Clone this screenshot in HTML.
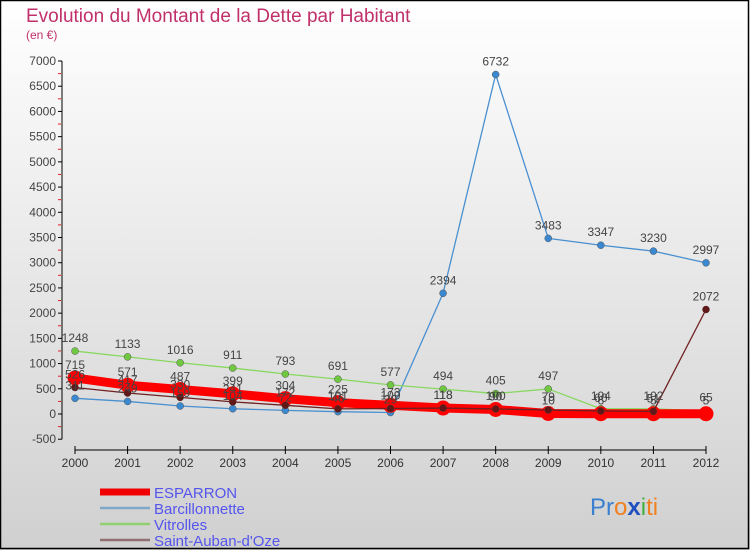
<!DOCTYPE html>
<html><head><meta charset="utf-8"><style>
body{margin:0;padding:0}
svg{display:block;font-family:"Liberation Sans",sans-serif}
</style></head><body>
<svg id="chart" width="750" height="550" viewBox="0 0 750 550" xmlns="http://www.w3.org/2000/svg">
<defs><linearGradient id="bg" x1="0" y1="0" x2="0" y2="1"><stop offset="0" stop-color="#ffffff"/><stop offset="1" stop-color="#d0d0d0"/></linearGradient></defs>
<rect x="0" y="0" width="750" height="550" fill="url(#bg)"/>
<rect x="0.5" y="0.5" width="748" height="548" fill="none" stroke="#000" stroke-width="1.5"/>
<text x="26" y="22" font-size="19" fill="#c0306a">Evolution du Montant de la Dette par Habitant</text>
<text x="26" y="39" font-size="12" fill="#c0306a">(en €)</text>
<g id="axes"></g>
<g id="series"></g>
<g id="labels"></g>
<g id="legend"></g>
<text x="590" y="515" font-size="24"><tspan fill="#3a7fd0">Pr</tspan><tspan fill="#f08020">o</tspan><tspan fill="#2050c0" font-weight="bold">x</tspan><tspan fill="#40b040">i</tspan><tspan fill="#f08020">ti</tspan></text>
</svg>
<script>
const years=[2000,2001,2002,2003,2004,2005,2006,2007,2008,2009,2010,2011,2012];
const yTicks=[-500,0,500,1000,1500,2000,2500,3000,3500,4000,4500,5000,5500,6000,6500,7000];
const esparron=[715,571,487,399,304,225,173,118,90,10,6,5,5];
const barcillonnette=[311,249,159,104,72,46,29,2394,6732,3483,3347,3230,2997];
const vitrolles=[1248,1133,1016,911,793,691,577,494,405,497,104,102,65];
const saintAuban=[526,417,330,241,172,101,109,118,100,79,60,51,2072];
const seriesNames=["ESPARRON","Barcillonnette","Vitrolles","Saint-Auban-d'Oze"];
const NS="http://www.w3.org/2000/svg";
const X=i=>75+i*(706-75)/12;
const Y=v=>414-v*(414-61)/7000;
function mk(tag,attrs,parent){const e=document.createElementNS(NS,tag);for(const k in attrs)e.setAttribute(k,attrs[k]);parent.appendChild(e);return e;}
const axes=document.getElementById('axes'),ser=document.getElementById('series'),lab=document.getElementById('labels'),leg=document.getElementById('legend');
let yax=mk('line',{x1:62,y1:Y(7000),x2:62,y2:Y(-500),stroke:'#000'},axes);


yTicks.forEach(t=>{
  let l=mk('line',{x1:58,y1:Y(t),x2:62,y2:Y(t),stroke:'#000'},axes);
  
  
  if(t<7000){
    let m=mk('line',{x1:58,y1:Y(t+250),x2:61,y2:Y(t+250),stroke:'#e02020'},axes);
    
    
  }
  let tx=mk('text',{x:56,y:Y(t)+4,'font-size':12,fill:'#444','text-anchor':'end'},axes);
  tx.textContent=t;
  
  
});
let xax=mk('line',{x1:75,y1:450,x2:706,y2:450,stroke:'#000'},axes);


years.forEach((yr,i)=>{
  let l=mk('line',{x1:X(i),y1:446,x2:X(i),y2:454,stroke:'#000'},axes);
  
  
  let tx=mk('text',{x:X(i),y:467,'font-size':12,fill:'#333','text-anchor':'middle'},axes);
  tx.textContent=yr;
  
  
});
const defs=[
 {d:barcillonnette,c:'#4a90d0',w:1.3,r:3.5,f:'#3a88d0',n:'barcillonnette'},
 {d:vitrolles,c:'#88d860',w:1.3,r:3.5,f:'#70c840',n:'vitrolles'},
 {d:esparron,c:'#ff0000',w:9,r:7,f:'#ff0000',n:'esparron'},
 {d:saintAuban,c:'#702020',w:1.3,r:3.5,f:'#601818',n:'saint-auban-d-oze'}
];
defs.forEach(s=>{
  let p=mk('polyline',{points:s.d.map((v,i)=>X(i)+','+Y(v)).join(' '),fill:'none',stroke:s.c,'stroke-width':s.w,'stroke-linejoin':'round'},ser);
  
  
  s.d.forEach((v,i)=>{
    let c=mk('circle',{cx:X(i),cy:Y(v),r:s.r,fill:s.f,stroke:s.n==='esparron'?'#ff0000':'#555','stroke-width':s.n==='esparron'?1:0.5},ser);
    
    
    let t=mk('text',{x:X(i),y:Y(v)-9,'font-size':12,fill:'#444','text-anchor':'middle'},lab);
    t.textContent=v;
    
    
  });
});
saintAuban.forEach((v,i)=>{
  let c=mk('circle',{cx:X(i),cy:Y(v),r:3.5,fill:'#601818'},ser);
  
  
});
const legStyles=[['#f00000',7],['#80a8c8',2.5],['#90d070',2.5],['#907070',2.5]];
seriesNames.forEach((n,i)=>{
  const y=492+i*16;
  let l=mk('line',{x1:100,y1:y,x2:150,y2:y,stroke:legStyles[i][0],'stroke-width':legStyles[i][1]},leg);
  
  
  let t=mk('text',{x:154,y:y+6,'font-size':15,fill:'#5555ee'},leg);
  t.textContent=n;
  
  
});
</script>
</body></html>
